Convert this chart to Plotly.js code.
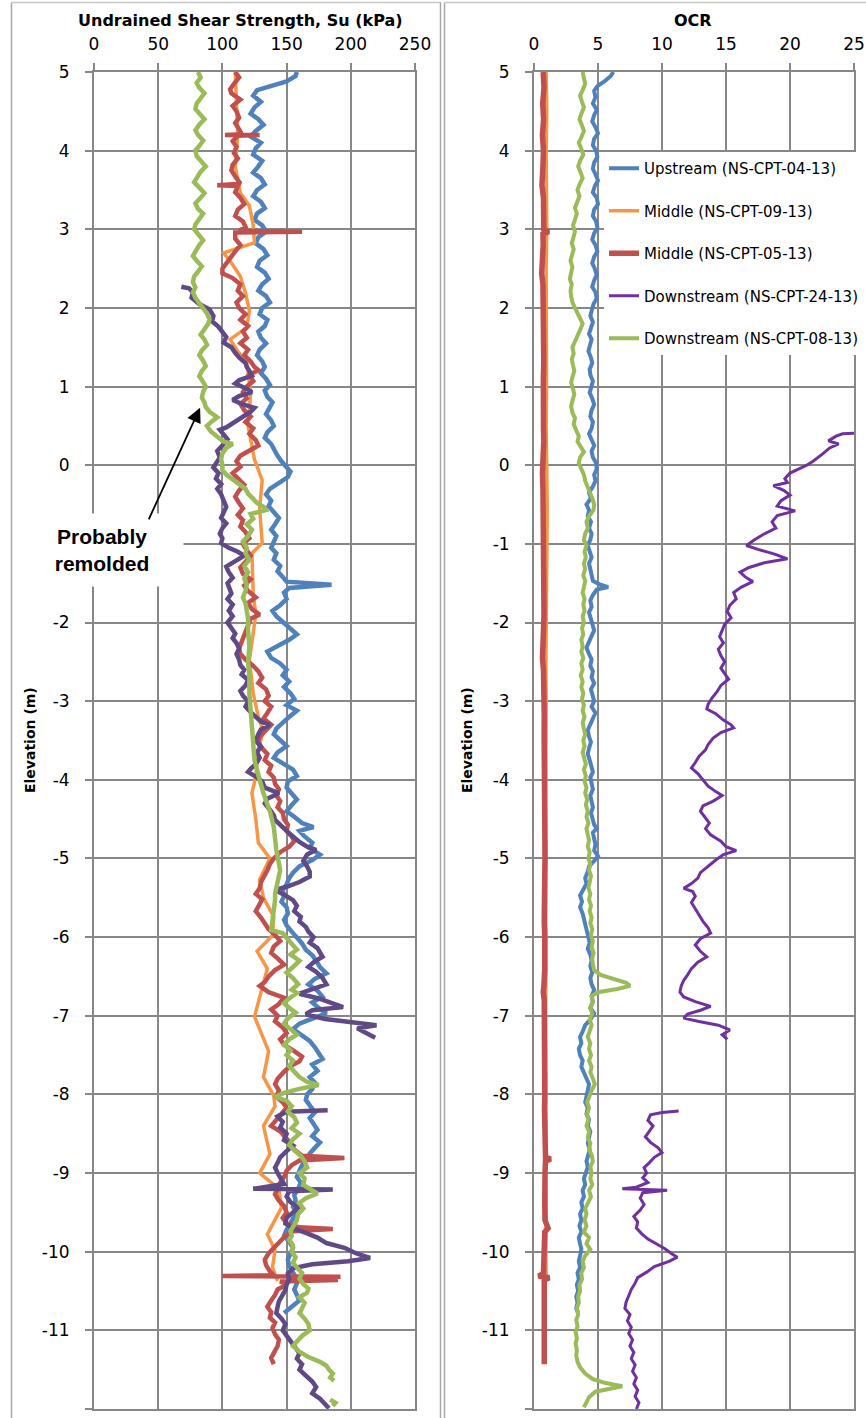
<!DOCTYPE html>
<html><head><meta charset="utf-8">
<script src="https://cdn.plot.ly/plotly-3.0.1.min.js"></script>
<style>html,body{margin:0;padding:0;background:#fff}#chart{width:866px;height:1418px}</style>
</head><body><div id="chart"></div>
<script>
// ---------- DATA (elevation m, value) ----------
const seriesNames = ['Upstream (NS-CPT-04-13)','Middle (NS-CPT-09-13)','Middle (NS-CPT-05-13)','Downstream (NS-CPT-24-13)','Downstream (NS-CPT-08-13)'];
const suTicks = [0,50,100,150,200,250];
const ocrTicks = [0,5,10,15,20,25];
const elevTicks = [5,4,3,2,1,0,-1,-2,-3,-4,-5,-6,-7,-8,-9,-10,-11,-12];
const elevTickText = ['5','4','3','2','1','0','-1','-2','-3','-4','-5','-6','-7','-8','-9','-10','-11','-12'];
// left panel: the "-1" label is hidden behind the "Probably remolded" box in the original
const elevTickTextLeft = ['5','4','3','2','1','0','','-2','-3','-4','-5','-6','-7','-8','-9','-10','-11','-12'];

// Undrained shear strength Su (kPa)
const suUpstream = [[5.00,158],[4.95,157],[4.88,150],[4.83,138],[4.77,127],[4.70,124],[4.62,130],[4.55,125],[4.47,122],[4.40,128],[4.33,132],[4.25,126],[4.18,122],[4.10,130],[4.03,126],[3.95,124],[3.87,131],[3.80,128],[3.72,124],[3.65,130],[3.57,133],[3.50,127],[3.42,124],[3.35,130],[3.27,133],[3.20,127],[3.12,125],[3.05,131],[2.97,134],[2.90,128],[2.82,126],[2.75,132],[2.67,135],[2.60,129],[2.52,127],[2.45,133],[2.37,136],[2.30,131],[2.22,128],[2.15,134],[2.07,137],[2.00,131],[1.92,129],[1.85,135],[1.77,133],[1.70,128],[1.62,130],[1.55,134],[1.47,129],[1.40,127],[1.32,131],[1.25,133],[1.17,130],[1.10,134],[1.02,137],[0.95,133],[0.87,135],[0.80,139],[0.72,136],[0.65,134],[0.57,138],[0.50,140],[0.42,135],[0.35,133],[0.27,138],[0.20,140],[0.12,143],[0.05,146],[-0.02,150],[-0.08,153],[-0.15,151],[-0.22,145],[-0.30,137],[-0.37,134],[-0.45,138],[-0.52,136],[-0.60,140],[-0.67,144],[-0.75,141],[-0.82,138],[-0.90,142],[-0.97,140],[-1.05,138],[-1.12,142],[-1.20,140],[-1.28,145],[-1.35,143],[-1.42,147],[-1.48,150],[-1.52,185],[-1.56,152],[-1.62,148],[-1.70,150],[-1.78,145],[-1.85,139],[-1.92,142],[-2.00,148],[-2.07,153],[-2.15,158],[-2.22,152],[-2.30,143],[-2.37,135],[-2.45,138],[-2.52,145],[-2.60,150],[-2.67,147],[-2.75,152],[-2.82,148],[-2.90,153],[-2.97,156],[-3.05,150],[-3.12,158],[-3.20,152],[-3.28,147],[-3.35,142],[-3.42,140],[-3.50,146],[-3.57,150],[-3.65,143],[-3.72,140],[-3.80,148],[-3.87,155],[-3.95,158],[-4.02,151],[-4.10,150],[-4.17,154],[-4.25,158],[-4.32,154],[-4.40,150],[-4.47,156],[-4.55,162],[-4.60,171],[-4.65,160],[-4.72,164],[-4.80,170],[-4.87,168],[-4.95,176],[-5.02,170],[-5.10,160],[-5.18,155],[-5.25,152],[-5.33,150],[-5.40,147],[-5.48,148],[-5.55,146],[-5.62,150],[-5.70,151],[-5.78,148],[-5.85,150],[-5.93,154],[-6.00,158],[-6.08,162],[-6.16,165],[-6.23,170],[-6.30,173],[-6.38,176],[-6.46,181],[-6.53,172],[-6.60,167],[-6.68,174],[-6.76,178],[-6.83,170],[-6.90,175],[-6.97,181],[-7.05,168],[-7.10,160],[-7.17,155],[-7.25,162],[-7.32,168],[-7.40,172],[-7.47,175],[-7.55,178],[-7.62,170],[-7.70,174],[-7.78,168],[-7.85,172],[-7.93,170],[-8.00,166],[-8.07,165],[-8.15,168],[-8.23,172],[-8.30,168],[-8.38,171],[-8.45,174],[-8.53,170],[-8.61,176],[-8.68,172],[-8.75,168],[-8.82,166],[-8.90,162],[-8.97,160],[-9.05,158],[-9.12,161],[-9.20,159],[-9.28,156],[-9.35,157],[-9.43,155],[-9.50,158],[-9.58,155],[-9.65,152],[-9.72,150],[-9.80,148],[-9.87,152],[-9.95,155],[-10.02,153],[-10.10,151],[-10.18,152],[-10.25,155],[-10.32,157],[-10.40,158],[-10.48,156],[-10.55,158],[-10.62,160],[-10.70,154],[-10.78,148]];

const suMiddle09 = [[5.00,110],[4.70,111],[4.20,112],[3.80,110],[3.46,114],[3.30,121],[3.05,124],[2.83,125],[2.70,101],[2.55,108],[2.40,114],[2.19,118],[1.97,121],[1.75,119],[1.60,106],[1.45,112],[1.30,119],[0.92,122],[0.50,120],[0.07,125],[-0.19,131],[-0.55,129],[-0.99,131],[-1.12,123],[-1.63,124],[-1.90,126],[-2.48,121],[-2.90,124],[-3.20,128],[-3.38,132],[-3.60,128],[-3.96,126],[-4.17,123],[-4.50,126],[-4.80,128],[-5.00,137],[-5.27,129],[-5.50,132],[-5.74,140],[-5.98,139],[-6.18,127],[-6.40,135],[-7.01,125],[-7.45,136],[-7.78,132],[-8.02,140],[-8.15,141],[-8.40,132],[-8.76,137],[-9.00,129],[-9.20,144],[-9.44,146],[-9.78,135],[-9.98,141],[-10.20,139],[-10.37,143]];

const suMiddle05 = [[5.00,110],[4.93,113],[4.85,109],[4.78,106],[4.73,107],[4.65,114],[4.57,108],[4.50,111],[4.42,113],[4.35,110],[4.27,113],[4.21,115],[4.20,102],[4.20,129],[4.19,112],[4.12,108],[4.05,111],[3.97,109],[3.90,112],[3.82,108],[3.75,107],[3.67,110],[3.58,114],[3.56,96],[3.55,112],[3.47,110],[3.40,114],[3.32,117],[3.25,112],[3.17,110],[3.10,116],[3.03,118],[2.98,113],[2.97,162],[2.96,110],[2.88,110],[2.80,114],[2.72,110],[2.65,107],[2.58,104],[2.50,100],[2.44,100],[2.38,108],[2.30,114],[2.22,112],[2.15,116],[2.07,111],[2.00,113],[1.92,118],[1.85,114],[1.77,120],[1.70,116],[1.62,119],[1.55,114],[1.47,120],[1.40,117],[1.32,122],[1.25,125],[1.21,128],[1.15,121],[1.07,124],[1.00,119],[0.93,116],[0.85,119],[0.78,114],[0.70,117],[0.62,122],[0.55,118],[0.47,124],[0.40,121],[0.32,126],[0.25,128],[0.20,122],[0.12,114],[0.05,111],[-0.02,114],[-0.10,108],[-0.17,112],[-0.25,117],[-0.32,113],[-0.40,110],[-0.48,113],[-0.55,116],[-0.63,112],[-0.70,116],[-0.78,114],[-0.85,118],[-0.93,121],[-1.00,116],[-1.08,119],[-1.15,122],[-1.23,118],[-1.30,114],[-1.38,116],[-1.45,122],[-1.53,117],[-1.60,120],[-1.68,126],[-1.75,120],[-1.83,123],[-1.90,129],[-1.95,122],[-2.03,120],[-2.10,119],[-2.18,117],[-2.25,115],[-2.33,113],[-2.40,114],[-2.47,118],[-2.55,124],[-2.62,128],[-2.70,131],[-2.77,128],[-2.85,134],[-2.93,136],[-3.00,133],[-3.07,138],[-3.15,135],[-3.22,132],[-3.30,138],[-3.37,134],[-3.45,129],[-3.52,128],[-3.60,131],[-3.67,135],[-3.75,133],[-3.82,138],[-3.90,136],[-3.97,140],[-4.05,141],[-4.12,144],[-4.20,142],[-4.27,145],[-4.35,143],[-4.42,147],[-4.50,148],[-4.57,151],[-4.65,150],[-4.72,154],[-4.78,156],[-4.85,152],[-4.92,145],[-5.00,140],[-5.07,137],[-5.15,135],[-5.22,133],[-5.30,130],[-5.38,129],[-5.45,126],[-5.52,131],[-5.60,128],[-5.67,126],[-5.75,130],[-5.82,133],[-5.90,136],[-5.97,141],[-6.05,145],[-6.12,140],[-6.20,138],[-6.27,143],[-6.35,148],[-6.42,141],[-6.50,136],[-6.57,133],[-6.62,129],[-6.70,136],[-6.77,148],[-6.85,144],[-6.92,138],[-7.00,143],[-7.07,141],[-7.15,147],[-7.22,150],[-7.30,145],[-7.37,148],[-7.45,156],[-7.52,162],[-7.58,160],[-7.65,152],[-7.73,147],[-7.80,143],[-7.87,141],[-7.95,144],[-8.03,142],[-8.10,147],[-8.17,150],[-8.25,146],[-8.32,142],[-8.40,138],[-8.47,145],[-8.54,149],[-8.62,153],[-8.70,156],[-8.78,162],[-8.81,195],[-8.84,160],[-8.90,154],[-8.97,150],[-9.05,148],[-9.12,145],[-9.20,143],[-9.27,141],[-9.35,144],[-9.42,148],[-9.50,150],[-9.57,147],[-9.64,150],[-9.69,160],[-9.71,186],[-9.74,155],[-9.80,149],[-9.87,145],[-9.94,140],[-10.02,136],[-10.10,133],[-10.17,134],[-10.25,137],[-10.30,140],[-10.31,100],[-10.32,192],[-10.34,150],[-10.36,190],[-10.38,145],[-10.42,150],[-10.48,143],[-10.55,141],[-10.62,138],[-10.70,135],[-10.77,138],[-10.84,137],[-10.90,141],[-10.97,139],[-11.05,141],[-11.12,144],[-11.20,143],[-11.27,141],[-11.35,138],[-11.43,140]];

const suDownstream24 = [[2.27,68],[2.25,74],[2.20,77],[2.13,76],[2.05,82],[1.98,90],[1.90,93],[1.83,92],[1.76,97],[1.70,100],[1.63,103],[1.56,101],[1.50,107],[1.43,110],[1.37,113],[1.30,118],[1.25,119],[1.20,121],[1.14,123],[1.08,113],[1.04,110],[0.98,118],[0.93,123],[0.88,113],[0.83,108],[0.78,115],[0.73,125],[0.68,122],[0.62,116],[0.55,110],[0.48,103],[0.45,98],[0.40,101],[0.33,104],[0.25,100],[0.18,96],[0.10,98],[0.03,95],[-0.03,93],[-0.10,97],[-0.17,95],[-0.24,99],[-0.30,96],[-0.37,99],[-0.45,101],[-0.53,103],[-0.60,101],[-0.67,99],[-0.74,103],[-0.80,100],[-0.87,98],[-0.93,100],[-0.99,99],[-1.05,105],[-1.10,112],[-1.15,117],[-1.22,110],[-1.29,103],[-1.36,105],[-1.43,108],[-1.50,104],[-1.57,106],[-1.63,107],[-1.70,104],[-1.77,108],[-1.85,105],[-1.92,108],[-2.00,104],[-2.07,107],[-2.14,110],[-2.20,108],[-2.26,111],[-2.33,113],[-2.40,111],[-2.47,113],[-2.54,114],[-2.60,117],[-2.66,115],[-2.73,120],[-2.80,118],[-2.87,114],[-2.93,116],[-3.00,120],[-3.07,118],[-3.14,122],[-3.20,126],[-3.26,130],[-3.30,137],[-3.36,130],[-3.42,128],[-3.50,126],[-3.58,130],[-3.65,127],[-3.72,129],[-3.80,126],[-3.86,122],[-3.90,120],[-3.96,126],[-4.02,131],[-4.10,133],[-4.17,144],[-4.24,135],[-4.30,133],[-4.38,137],[-4.45,140],[-4.51,141],[-4.58,145],[-4.65,150],[-4.72,155],[-4.79,160],[-4.85,166],[-4.89,173],[-4.95,166],[-5.03,163],[-5.10,166],[-5.17,168],[-5.23,168],[-5.30,160],[-5.36,150],[-5.40,141],[-5.46,148],[-5.53,155],[-5.60,158],[-5.67,156],[-5.74,161],[-5.80,160],[-5.87,165],[-5.93,167],[-6.00,171],[-6.07,168],[-6.14,174],[-6.20,176],[-6.25,178],[-6.32,171],[-6.38,167],[-6.44,173],[-6.52,178],[-6.60,181],[-6.66,170],[-6.72,160],[-6.78,175],[-6.84,185],[-6.89,194],[-6.93,170],[-6.98,165],[-7.04,180],[-7.10,206],[-7.12,220],[-7.16,205],[-7.22,212],[-7.28,219],null,[-8.20,182],[-8.22,150],[-8.28,143],[-8.35,147],[-8.42,145],[-8.50,150],[-8.58,148],[-8.65,155],[-8.72,150],[-8.80,145],[-8.87,143],[-8.93,141],[-9.00,143],[-9.07,146],[-9.14,148],[-9.20,124],[-9.21,186],[-9.23,152],[-9.30,150],[-9.37,153],[-9.44,159],[-9.50,155],[-9.57,150],[-9.64,149],[-9.70,155],[-9.76,165],[-9.82,174],[-9.89,181],[-9.95,195],[-10.02,204],[-10.08,215],[-10.12,198],[-10.16,170],[-10.21,155],[-10.28,151],[-10.35,152],[-10.42,150],[-10.49,149],[-10.56,146],[-10.63,144],[-10.70,143],[-10.78,142],[-10.85,146],[-10.92,149],[-11.00,147],[-11.07,150],[-11.14,153],[-11.22,156],[-11.29,160],[-11.36,158],[-11.43,162],[-11.50,160],[-11.58,166],[-11.65,170],[-11.72,173],[-11.80,170],[-11.87,176],[-11.93,180],[-11.99,183]];

const suDownstream08 = [[5.00,81],[4.93,83],[4.86,80],[4.80,82],[4.73,86],[4.66,83],[4.60,80],[4.53,79],[4.46,83],[4.40,86],[4.33,82],[4.26,79],[4.20,81],[4.13,85],[4.06,82],[4.00,79],[3.93,80],[3.86,84],[3.80,87],[3.73,83],[3.66,80],[3.60,78],[3.53,82],[3.46,86],[3.40,83],[3.33,79],[3.26,81],[3.20,85],[3.13,82],[3.06,79],[3.00,78],[2.93,81],[2.86,85],[2.80,82],[2.73,79],[2.66,77],[2.60,80],[2.53,84],[2.46,81],[2.40,78],[2.33,77],[2.26,79],[2.20,77],[2.13,79],[2.06,82],[2.00,85],[1.93,88],[1.86,90],[1.80,89],[1.73,86],[1.66,83],[1.60,86],[1.53,88],[1.46,84],[1.40,82],[1.33,85],[1.26,87],[1.20,84],[1.13,82],[1.06,85],[1.00,87],[0.93,85],[0.86,84],[0.80,86],[0.74,87],[0.68,90],[0.61,96],[0.56,92],[0.50,88],[0.43,91],[0.36,96],[0.30,101],[0.27,108],[0.22,103],[0.15,100],[0.08,99],[0.00,100],[-0.06,100],[-0.12,103],[-0.18,108],[-0.24,114],[-0.30,118],[-0.36,120],[-0.42,124],[-0.48,127],[-0.54,133],[-0.57,134],[-0.62,122],[-0.68,124],[-0.75,119],[-0.82,123],[-0.90,120],[-0.97,116],[-1.05,119],[-1.12,118],[-1.20,121],[-1.28,117],[-1.36,120],[-1.44,117],[-1.52,119],[-1.60,118],[-1.68,116],[-1.76,118],[-1.85,119],[-1.95,120],[-2.10,120],[-2.30,121],[-2.50,120],[-2.70,121],[-2.90,121],[-3.10,122],[-3.30,123],[-3.50,124],[-3.75,125],[-4.00,129],[-4.17,132],[-4.40,137],[-4.60,140],[-4.89,142],[-5.15,145],[-5.30,143],[-5.45,141],[-5.53,141],[-5.65,140],[-5.80,139],[-5.91,138],[-5.95,147],[-6.05,152],[-6.16,158],[-6.22,153],[-6.30,160],[-6.38,155],[-6.45,150],[-6.52,155],[-6.60,159],[-6.67,154],[-6.71,158],[-6.78,152],[-6.84,148],[-6.90,152],[-6.96,157],[-7.03,151],[-7.10,148],[-7.17,153],[-7.24,158],[-7.30,152],[-7.37,148],[-7.44,153],[-7.50,150],[-7.57,155],[-7.64,152],[-7.71,156],[-7.78,160],[-7.84,166],[-7.88,175],[-7.93,160],[-7.98,148],[-8.03,141],[-8.08,150],[-8.15,154],[-8.22,151],[-8.29,156],[-8.36,158],[-8.43,154],[-8.50,160],[-8.57,155],[-8.64,152],[-8.71,156],[-8.78,161],[-8.85,164],[-8.93,166],[-9.00,160],[-9.07,164],[-9.15,163],[-9.21,170],[-9.26,174],[-9.32,165],[-9.38,160],[-9.45,163],[-9.52,159],[-9.60,158],[-9.67,155],[-9.74,153],[-9.80,154],[-9.85,152],[-9.92,155],[-10.00,154],[-10.07,157],[-10.14,155],[-10.20,158],[-10.27,162],[-10.34,160],[-10.41,163],[-10.47,167],[-10.52,166],[-10.58,160],[-10.65,164],[-10.72,162],[-10.78,160],[-10.85,164],[-10.92,167],[-11.00,168],[-11.07,162],[-11.14,158],[-11.20,155],[-11.27,160],[-11.34,167],[-11.40,176],[-11.45,181],[-11.50,183],[-11.55,186],[-11.60,184],[-11.64,187],null,[-11.88,184],[-11.92,188],[-11.96,186]];

// OCR
const ocrUpstream = [[5.00,6.2],[4.95,6.0],[4.88,5.5],[4.82,4.95],[4.76,4.7],[4.68,4.8],[4.60,4.6],[4.52,4.9],[4.45,4.7],[4.37,4.55],[4.30,4.8],[4.22,5.0],[4.15,4.7],[4.07,4.6],[4.00,4.85],[3.92,4.95],[3.85,4.7],[3.77,4.6],[3.70,4.8],[3.62,5.0],[3.55,4.75],[3.47,4.6],[3.40,4.9],[3.32,5.0],[3.25,4.7],[3.17,4.6],[3.10,4.85],[3.02,4.95],[2.95,4.7],[2.87,4.55],[2.80,4.8],[2.72,4.95],[2.65,4.7],[2.57,4.55],[2.50,4.75],[2.42,4.9],[2.35,4.7],[2.27,4.55],[2.20,4.8],[2.12,4.9],[2.05,4.65],[1.97,4.5],[1.90,4.4],[1.82,4.6],[1.75,4.45],[1.67,4.3],[1.60,4.5],[1.52,4.4],[1.45,4.25],[1.37,4.45],[1.30,4.55],[1.22,4.35],[1.15,4.4],[1.07,4.6],[1.00,4.5],[0.92,4.35],[0.85,4.55],[0.77,4.7],[0.70,4.5],[0.62,4.4],[0.55,4.6],[0.47,4.5],[0.40,4.3],[0.32,4.5],[0.25,4.7],[0.18,4.5],[0.10,4.6],[0.03,4.85],[-0.05,4.9],[-0.12,4.7],[-0.20,4.8],[-0.27,4.6],[-0.35,4.3],[-0.42,4.45],[-0.50,4.1],[-0.57,4.3],[-0.65,4.2],[-0.72,4.45],[-0.80,4.3],[-0.87,4.5],[-0.95,4.4],[-1.02,4.2],[-1.10,4.35],[-1.17,4.5],[-1.25,4.3],[-1.32,4.4],[-1.40,4.55],[-1.47,4.6],[-1.52,5.2],[-1.55,5.8],[-1.58,4.9],[-1.65,4.6],[-1.72,4.4],[-1.80,4.5],[-1.87,4.3],[-1.95,4.45],[-2.02,4.6],[-2.10,4.7],[-2.17,4.5],[-2.25,4.3],[-2.32,4.1],[-2.40,4.3],[-2.47,4.5],[-2.55,4.4],[-2.62,4.6],[-2.70,4.5],[-2.77,4.7],[-2.85,4.45],[-2.92,4.6],[-3.00,4.7],[-3.07,4.5],[-3.15,4.8],[-3.22,4.6],[-3.30,4.4],[-3.37,4.2],[-3.45,4.3],[-3.52,4.45],[-3.60,4.3],[-3.67,4.2],[-3.75,4.35],[-3.82,4.5],[-3.90,4.6],[-3.97,4.4],[-4.05,4.5],[-4.12,4.6],[-4.20,4.4],[-4.27,4.5],[-4.35,4.6],[-4.42,4.45],[-4.50,4.55],[-4.57,4.7],[-4.62,4.9],[-4.67,4.6],[-4.75,4.7],[-4.82,4.8],[-4.90,4.7],[-4.97,5.0],[-5.03,4.7],[-5.10,4.3],[-5.17,4.2],[-5.25,4.0],[-5.32,4.1],[-5.40,3.8],[-5.47,3.6],[-5.55,3.75],[-5.62,3.6],[-5.70,3.8],[-5.77,3.9],[-5.85,4.0],[-5.92,4.1],[-6.00,4.2],[-6.07,4.35],[-6.15,4.2],[-6.22,4.4],[-6.30,4.5],[-6.37,4.4],[-6.45,4.55],[-6.52,4.4],[-6.60,4.5],[-6.67,4.7],[-6.75,4.5],[-6.82,4.6],[-6.90,4.4],[-6.97,4.7],[-7.05,4.4],[-7.12,4.0],[-7.20,3.8],[-7.27,3.6],[-7.35,3.7],[-7.42,3.5],[-7.50,3.6],[-7.57,3.8],[-7.65,3.7],[-7.72,3.9],[-7.80,4.1],[-7.87,4.3],[-7.95,4.2],[-8.02,4.1],[-8.10,4.0],[-8.17,4.2],[-8.25,4.1],[-8.32,4.3],[-8.40,4.2],[-8.47,4.4],[-8.55,4.3],[-8.62,4.2],[-8.70,4.35],[-8.77,4.2],[-8.85,4.1],[-8.92,4.2],[-9.00,4.0],[-9.07,3.9],[-9.15,4.0],[-9.22,3.8],[-9.30,3.9],[-9.37,3.7],[-9.45,3.8],[-9.52,3.6],[-9.60,3.7],[-9.67,3.55],[-9.75,3.7],[-9.82,3.5],[-9.90,3.6],[-9.97,3.7],[-10.05,3.6],[-10.12,3.5],[-10.20,3.6],[-10.27,3.4],[-10.35,3.5],[-10.42,3.35],[-10.50,3.45],[-10.57,3.3],[-10.65,3.4],[-10.72,3.3],[-10.78,3.45]];

const ocrMiddle09 = [[5.00,0.95],[4.50,1.0],[4.00,0.95],[3.50,0.97],[3.00,1.0],[2.50,0.95],[2.00,0.97],[1.50,1.0],[1.00,0.98],[0.50,0.95],[0.00,1.0],[-0.50,1.03],[-1.00,1.01],[-1.50,0.97],[-2.00,0.95],[-2.50,0.93],[-3.00,0.95],[-3.50,0.97],[-4.00,0.93],[-4.50,0.91],[-5.00,0.93],[-5.50,0.95],[-6.00,0.97],[-6.50,0.93],[-7.00,0.91],[-7.50,0.93],[-8.00,0.95],[-8.50,0.93],[-9.00,0.90],[-9.50,0.95],[-10.00,0.93],[-10.38,0.95]];

const ocrMiddle05 = [[5.00,0.72],[4.80,0.78],[4.60,0.68],[4.40,0.75],[4.20,0.66],[4.00,0.74],[3.80,0.70],[3.56,0.62],[3.40,0.74],[3.20,0.70],[3.00,0.76],[2.97,1.15],[2.94,0.70],[2.80,0.72],[2.60,0.66],[2.44,0.60],[2.30,0.70],[2.10,0.73],[1.90,0.70],[1.70,0.74],[1.50,0.72],[1.30,0.76],[1.10,0.73],[0.90,0.70],[0.70,0.72],[0.50,0.74],[0.30,0.76],[0.10,0.70],[-0.10,0.66],[-0.30,0.70],[-0.50,0.72],[-0.70,0.70],[-0.90,0.74],[-1.10,0.75],[-1.30,0.72],[-1.50,0.74],[-1.70,0.77],[-1.90,0.78],[-2.10,0.74],[-2.30,0.70],[-2.45,0.66],[-2.60,0.74],[-2.80,0.78],[-3.00,0.80],[-3.20,0.80],[-3.40,0.79],[-3.60,0.80],[-3.80,0.82],[-4.00,0.84],[-4.20,0.84],[-4.40,0.86],[-4.60,0.86],[-4.80,0.88],[-4.90,0.95],[-5.00,0.86],[-5.20,0.84],[-5.40,0.80],[-5.60,0.78],[-5.80,0.80],[-6.00,0.84],[-6.20,0.86],[-6.40,0.84],[-6.60,0.78],[-6.70,0.72],[-6.80,0.80],[-7.00,0.82],[-7.20,0.84],[-7.40,0.86],[-7.60,0.90],[-7.80,0.86],[-8.00,0.84],[-8.20,0.82],[-8.40,0.82],[-8.60,0.86],[-8.80,0.90],[-8.82,1.30],[-8.85,0.90],[-9.00,0.86],[-9.20,0.82],[-9.40,0.84],[-9.60,0.86],[-9.70,1.10],[-9.75,0.84],[-9.90,0.80],[-10.10,0.76],[-10.28,0.74],[-10.31,0.35],[-10.33,1.20],[-10.36,0.80],[-10.50,0.80],[-10.70,0.76],[-10.90,0.78],[-11.10,0.80],[-11.30,0.78],[-11.43,0.80]];

const ocrDownstream24 = [[0.41,25.3],[0.40,24.1],[0.37,23.6],[0.31,23.0],[0.27,23.8],[0.22,23.1],[0.15,22.6],[0.05,21.8],[0.00,21.3],[-0.06,20.5],[-0.10,20.0],[-0.17,19.6],[-0.22,19.8],[-0.26,18.7],[-0.32,19.5],[-0.38,20.0],[-0.45,19.3],[-0.52,19.0],[-0.58,20.4],[-0.64,19.0],[-0.72,18.6],[-0.80,18.9],[-0.88,17.9],[-0.95,17.2],[-1.02,16.6],[-1.07,17.5],[-1.13,18.8],[-1.19,19.8],[-1.24,18.0],[-1.30,16.8],[-1.36,16.1],[-1.42,16.5],[-1.48,17.1],[-1.55,16.2],[-1.62,15.6],[-1.70,15.8],[-1.78,15.3],[-1.86,15.1],[-1.94,15.4],[-2.02,14.9],[-2.10,14.7],[-2.18,14.5],[-2.26,14.8],[-2.34,14.4],[-2.42,14.6],[-2.50,14.9],[-2.58,14.6],[-2.65,14.9],[-2.72,15.2],[-2.80,14.6],[-2.88,14.3],[-2.96,13.9],[-3.04,13.6],[-3.10,13.5],[-3.16,14.2],[-3.24,14.8],[-3.30,15.4],[-3.34,15.6],[-3.40,14.6],[-3.47,14.0],[-3.55,13.6],[-3.62,13.4],[-3.70,12.9],[-3.78,12.6],[-3.85,12.3],[-3.92,12.8],[-4.00,13.2],[-4.08,13.6],[-4.15,14.2],[-4.20,14.7],[-4.27,14.0],[-4.33,13.2],[-4.40,13.0],[-4.48,13.4],[-4.55,13.7],[-4.62,13.4],[-4.70,13.8],[-4.78,14.6],[-4.85,15.0],[-4.90,15.8],[-4.95,14.8],[-5.02,14.2],[-5.10,13.6],[-5.18,13.0],[-5.25,12.8],[-5.32,12.3],[-5.38,11.7],[-5.42,12.4],[-5.48,12.6],[-5.56,12.3],[-5.64,12.6],[-5.72,12.9],[-5.80,13.2],[-5.88,13.6],[-5.95,13.8],[-6.02,13.0],[-6.10,12.6],[-6.18,13.0],[-6.25,13.5],[-6.32,12.8],[-6.40,12.3],[-6.48,12.0],[-6.55,11.7],[-6.62,11.5],[-6.70,11.4],[-6.76,11.7],[-6.82,12.6],[-6.88,13.8],[-6.93,13.0],[-6.98,12.0],[-7.03,11.7],[-7.07,12.8],[-7.12,14.4],[-7.18,15.3],[-7.24,14.7],[-7.30,15.1],null,[-8.21,11.3],[-8.23,10.0],[-8.26,9.1],[-8.33,8.9],[-8.40,9.3],[-8.47,9.0],[-8.54,8.7],[-8.61,9.1],[-8.68,9.7],[-8.74,10.0],[-8.80,9.4],[-8.87,9.0],[-8.93,8.6],[-9.00,8.8],[-9.06,8.5],[-9.12,8.9],[-9.18,8.0],[-9.20,6.9],[-9.22,10.4],[-9.25,8.5],[-9.32,8.3],[-9.40,8.6],[-9.47,8.3],[-9.55,7.8],[-9.62,8.1],[-9.70,8.0],[-9.77,8.4],[-9.84,8.9],[-9.90,9.6],[-9.96,10.2],[-10.02,10.7],[-10.07,11.2],[-10.12,10.6],[-10.19,9.4],[-10.26,8.8],[-10.33,8.1],[-10.40,7.9],[-10.48,7.6],[-10.56,7.4],[-10.64,7.2],[-10.72,7.1],[-10.80,7.5],[-10.88,7.3],[-10.96,7.6],[-11.04,7.4],[-11.12,7.7],[-11.20,7.5],[-11.28,7.8],[-11.36,7.6],[-11.44,7.9],[-11.52,7.7],[-11.60,8.0],[-11.68,7.8],[-11.76,8.1],[-11.84,7.9],[-11.92,8.2],[-12.00,8.0]];

const ocrDownstream08 = [[5.00,3.8],[4.92,3.9],[4.85,4.0],[4.77,3.8],[4.70,3.6],[4.62,3.75],[4.55,3.9],[4.47,3.7],[4.40,3.55],[4.32,3.75],[4.25,3.9],[4.17,3.7],[4.10,3.5],[4.02,3.7],[3.95,3.85],[3.87,3.6],[3.80,3.45],[3.72,3.65],[3.65,3.8],[3.57,3.55],[3.50,3.4],[3.42,3.55],[3.35,3.4],[3.27,3.2],[3.20,3.35],[3.12,3.2],[3.05,3.05],[2.97,3.2],[2.90,3.1],[2.82,2.95],[2.75,3.1],[2.67,2.95],[2.60,2.85],[2.52,3.0],[2.45,2.9],[2.37,2.8],[2.30,2.95],[2.22,2.85],[2.15,2.9],[2.07,3.0],[2.00,3.2],[1.92,3.45],[1.85,3.7],[1.80,3.8],[1.72,3.6],[1.65,3.4],[1.57,3.2],[1.50,3.0],[1.42,3.1],[1.35,2.95],[1.27,3.05],[1.20,3.15],[1.12,3.0],[1.05,2.9],[0.97,3.05],[0.90,3.15],[0.82,3.0],[0.75,2.9],[0.67,3.0],[0.60,3.2],[0.52,3.1],[0.45,3.3],[0.37,3.5],[0.30,3.4],[0.22,3.7],[0.17,3.9],[0.10,3.6],[0.03,3.5],[-0.05,3.7],[-0.12,3.9],[-0.20,4.0],[-0.27,4.2],[-0.35,4.4],[-0.42,4.55],[-0.50,4.7],[-0.57,4.65],[-0.65,4.3],[-0.72,4.1],[-0.80,4.2],[-0.87,4.0],[-0.95,3.9],[-1.02,4.1],[-1.10,3.95],[-1.17,4.05],[-1.25,3.9],[-1.32,4.0],[-1.40,3.85],[-1.47,4.0],[-1.55,3.9],[-1.62,3.8],[-1.70,3.95],[-1.77,3.85],[-1.85,3.95],[-1.92,3.8],[-2.00,3.9],[-2.07,3.75],[-2.15,3.85],[-2.22,3.7],[-2.30,3.8],[-2.37,3.7],[-2.45,3.85],[-2.52,3.7],[-2.60,3.8],[-2.67,3.65],[-2.75,3.8],[-2.82,3.7],[-2.90,3.85],[-2.97,3.75],[-3.05,3.9],[-3.12,3.8],[-3.20,3.95],[-3.27,3.8],[-3.35,3.9],[-3.42,4.0],[-3.50,3.85],[-3.57,3.95],[-3.65,3.8],[-3.72,3.95],[-3.80,4.05],[-3.87,3.9],[-3.95,4.05],[-4.02,3.95],[-4.10,4.1],[-4.17,4.0],[-4.25,4.15],[-4.32,4.05],[-4.40,4.2],[-4.47,4.1],[-4.55,4.25],[-4.62,4.1],[-4.70,4.2],[-4.77,4.3],[-4.85,4.2],[-4.92,4.35],[-5.00,4.25],[-5.07,4.4],[-5.15,4.3],[-5.22,4.45],[-5.30,4.35],[-5.37,4.25],[-5.45,4.4],[-5.52,4.3],[-5.60,4.45],[-5.67,4.35],[-5.75,4.5],[-5.82,4.4],[-5.90,4.55],[-5.97,4.45],[-6.05,4.6],[-6.12,4.5],[-6.20,4.65],[-6.27,4.55],[-6.35,4.6],[-6.42,4.7],[-6.48,5.2],[-6.53,6.2],[-6.58,7.2],[-6.62,7.5],[-6.66,6.5],[-6.70,5.0],[-6.75,4.5],[-6.82,4.6],[-6.90,4.4],[-6.97,4.55],[-7.05,4.35],[-7.12,4.5],[-7.20,4.35],[-7.27,4.2],[-7.35,4.4],[-7.42,4.3],[-7.50,4.45],[-7.57,4.3],[-7.65,4.5],[-7.72,4.4],[-7.80,4.6],[-7.87,4.75],[-7.95,4.5],[-8.02,4.3],[-8.10,4.15],[-8.17,4.3],[-8.25,4.15],[-8.32,4.25],[-8.40,4.1],[-8.47,4.3],[-8.55,4.2],[-8.62,4.4],[-8.70,4.3],[-8.77,4.5],[-8.85,4.6],[-8.92,4.4],[-9.00,4.5],[-9.07,4.4],[-9.15,4.55],[-9.22,4.3],[-9.30,4.45],[-9.37,4.25],[-9.45,4.0],[-9.52,4.1],[-9.60,3.95],[-9.67,4.1],[-9.75,3.9],[-9.82,4.3],[-9.90,4.1],[-9.97,4.4],[-10.05,4.0],[-10.12,3.8],[-10.20,3.9],[-10.27,3.7],[-10.35,3.75],[-10.42,3.55],[-10.50,3.6],[-10.57,3.45],[-10.65,3.5],[-10.72,3.35],[-10.80,3.45],[-10.87,3.3],[-10.95,3.4],[-11.02,3.25],[-11.10,3.35],[-11.17,3.25],[-11.25,3.35],[-11.32,3.3],[-11.40,3.4],[-11.47,3.6],[-11.55,4.0],[-11.62,4.6],[-11.67,5.6],[-11.71,6.9],[-11.74,5.8],[-11.78,4.8],[-11.85,4.3],[-11.92,4.1],[-11.98,3.9]];

// ---------- CHART ----------
const W = 866, H = 1418;
const px = v => v / W;
const py = v => (H - v) / H;
const suSeries = [suUpstream, suMiddle09, suMiddle05, suDownstream24, suDownstream08];
const ocrSeries = [ocrUpstream, ocrMiddle09, ocrMiddle05, ocrDownstream24, ocrDownstream08];
const colorsLeft = ['#4F81BD', '#F79646', '#C0504D', '#5F4A86', '#9BBB59'];
const colorsRight = ['#4F81BD', '#F79646', '#C0504D', '#7030A0', '#9BBB59'];
const widthsLeft = [4.5, 3.5, 4.5, 4.5, 4.5];
const widthsRight = [4, 3.5, 5.5, 3, 4];
const xv = p => p.map(d => d === null ? null : d[1]);
const yv = p => p.map(d => d === null ? null : d[0]);

const traces = [];
suSeries.forEach((s, i) => traces.push({
  type: 'scatter', mode: 'lines', x: xv(s), y: yv(s), xaxis: 'x', yaxis: 'y',
  name: seriesNames[i], showlegend: false, connectgaps: false,
  line: {color: colorsLeft[i], width: widthsLeft[i]}
}));
ocrSeries.forEach((s, i) => traces.push({
  type: 'scatter', mode: 'lines', x: xv(s), y: yv(s), xaxis: 'x2', yaxis: 'y2',
  name: seriesNames[i], showlegend: true, legendgroup: 'g' + i, connectgaps: false,
  line: {color: colorsRight[i], width: widthsRight[i]}
}));

const gridColor = '#878787';
const axisBase = {
  showgrid: true, gridcolor: gridColor, gridwidth: 2,
  showline: true, linecolor: gridColor, linewidth: 2, mirror: true,
  ticks: 'outside', ticklen: 7, tickwidth: 2, tickcolor: gridColor,
  tickfont: {family: 'DejaVu Sans', size: 17, color: '#000'},
  zeroline: false, fixedrange: true, automargin: false
};
const yDomain = [py(1409), py(72)];

const layout = {
  width: W, height: H,
  margin: {l: 0, r: 0, t: 0, b: 0, autoexpand: false},
  paper_bgcolor: '#fff', plot_bgcolor: '#fff',
  showlegend: true, hovermode: false,
  xaxis: Object.assign({}, axisBase, {domain: [px(94), px(415)], range: [0, 250], tickvals: suTicks, ticktext: suTicks.map(String), side: 'top', anchor: 'y', ticklabelstandoff: 6}),
  yaxis: Object.assign({}, axisBase, {domain: yDomain, range: [-12, 5], tickvals: elevTicks, ticktext: elevTickTextLeft, anchor: 'x', ticklabelstandoff: 12}),
  xaxis2: Object.assign({}, axisBase, {domain: [px(534), px(854)], range: [0, 25], tickvals: ocrTicks, ticktext: ocrTicks.map(String), side: 'top', anchor: 'y2', ticklabelstandoff: 6}),
  yaxis2: Object.assign({}, axisBase, {domain: yDomain, range: [-12, 5], tickvals: elevTicks, ticktext: elevTickText, anchor: 'x2', ticklabelstandoff: 12}),
  legend: {
    x: px(604), xanchor: 'left', y: py(152), yanchor: 'top',
    bgcolor: '#fff', borderwidth: 0, tracegroupgap: 20,
    font: {family: 'DejaVu Sans', size: 15, color: '#000'}
  },
  shapes: [
    {type: 'line', xref: 'paper', yref: 'paper', x0: px(11.5), x1: px(11.5), y0: py(2.5), y1: 0, line: {color: '#A8A8A8', width: 1.5}},
    {type: 'line', xref: 'paper', yref: 'paper', x0: px(11), x1: px(441), y0: py(2.5), y1: py(2.5), line: {color: '#C8C8C8', width: 1.5}},
    {type: 'line', xref: 'paper', yref: 'paper', x0: px(440.5), x1: px(440.5), y0: py(2.5), y1: 0, line: {color: '#A8A8A8', width: 1.5}},
    {type: 'line', xref: 'paper', yref: 'paper', x0: px(444.5), x1: px(444.5), y0: py(2.5), y1: 0, line: {color: '#A8A8A8', width: 1.5}},
    {type: 'line', xref: 'paper', yref: 'paper', x0: px(444), x1: 1, y0: py(2.5), y1: py(2.5), line: {color: '#C8C8C8', width: 1.5}}
  ],
  annotations: [
    {xref: 'paper', yref: 'paper', x: px(240.5), y: py(21), xanchor: 'center', yanchor: 'middle', showarrow: false,
     text: '<b>Undrained Shear Strength, Su (kPa)</b>', font: {family: 'DejaVu Sans', size: 16, color: '#000'}},
    {xref: 'paper', yref: 'paper', x: px(693), y: py(21), xanchor: 'center', yanchor: 'middle', showarrow: false,
     text: '<b>OCR</b>', font: {family: 'DejaVu Sans', size: 16, color: '#000'}},
    {xref: 'paper', yref: 'paper', x: px(30), y: py(740), xanchor: 'center', yanchor: 'middle', showarrow: false, textangle: -90,
     text: '<b>Elevation (m)</b>', font: {family: 'DejaVu Sans', size: 14, color: '#000'}},
    {xref: 'paper', yref: 'paper', x: px(467), y: py(740), xanchor: 'center', yanchor: 'middle', showarrow: false, textangle: -90,
     text: '<b>Elevation (m)</b>', font: {family: 'DejaVu Sans', size: 14, color: '#000'}},
    {xref: 'paper', yref: 'paper', x: px(102), y: py(550), xanchor: 'center', yanchor: 'middle', showarrow: false,
     width: 160, height: 70, bgcolor: '#fff', align: 'center', valign: 'middle',
     text: '<b>Probably<br>remolded</b>', font: {family: 'Liberation Sans', size: 21, color: '#000'}},
    {xref: 'x', yref: 'y', x: 82.6, y: 0.73, ax: -52, ay: 113, axref: 'pixel', ayref: 'pixel',
     text: '', showarrow: true, arrowhead: 2, arrowsize: 1.6, arrowwidth: 1.8, arrowcolor: '#000', standoff: 0, startstandoff: 0}
  ]
};

Plotly.newPlot('chart', traces, layout, {staticPlot: true, displayModeBar: false});
</script>
</body></html>
